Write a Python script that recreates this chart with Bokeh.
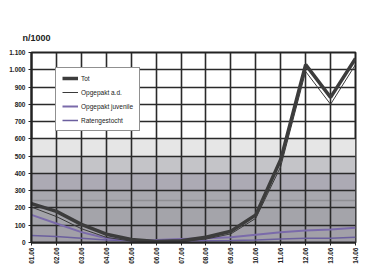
from bokeh.plotting import figure
from bokeh.models import Legend, LegendItem, FixedTicker, Range1d, BoxAnnotation
from bokeh.embed import file_html
from bokeh.resources import INLINE
import math

# ---- data ----
x_labels = ["01.06", "02.06", "03.06", "04.06", "05.06", "06.06", "07.06",
            "08.06", "09.06", "10.06", "11.06", "12.06", "13.06", "14.06"]
totaal = [225, 180, 105, 48, 17, 6, 10, 30, 65, 160, 480, 1030, 840, 1065]
opgepakt_ad = [205, 150, 80, 30, 8, 2, 5, 20, 50, 140, 440, 990, 800, 1030]
opgepakt_juv = [160, 110, 60, 25, 12, 15, 20, 25, 30, 45, 60, 70, 75, 85]
rattengestocht = [40, 35, 25, 15, 10, 8, 8, 10, 12, 15, 20, 25, 25, 30]
y_ticks = [0, 100, 200, 300, 400, 500, 600, 700, 800, 900, 1000, 1100]
y_tick_labels = ["0", "100", "200", "300", "400", "500", "600", "700", "800",
                 "900", "1.000", "1.100"]
# background halftone bands (value ranges) and their grey tone
band_bottoms = [0, 100, 200, 300, 400, 500]
band_tops = [100, 200, 300, 400, 500, 600]
band_colors = ["#a2a0a8", "#a4a4aa", "#a8a8ae", "#acaab4", "#c4c4c8", "#e6e6e6"]

xs = list(range(len(x_labels)))

p = figure(width=366, height=266, output_backend="svg", toolbar_location=None,
           x_range=Range1d(0, len(x_labels) - 1), y_range=Range1d(0, 1100),
           min_border_left=31, min_border_right=11, min_border_top=52,
           min_border_bottom=23, title="n/1000")
p.title.text_font_size = "9px"
p.title.text_font_style = "bold"
p.title.text_font = "Liberation Sans"
p.title.text_color = "#222222"
p.title.offset = -9
p.title.standoff = 19

bands = p.hbar(y=[(b + t) / 2 for b, t in zip(band_bottoms, band_tops)],
               height=100, left=0, right=len(x_labels) - 1,
               color=band_colors, line_color=None)
bands.level = "image"

l4 = p.line(xs, rattengestocht, line_color="#6b5f9e", line_width=1.5)
l3 = p.line(xs, opgepakt_juv, line_color="#7a6aaa", line_width=2)
l2 = p.line(xs, opgepakt_ad, line_color="#3a3a3a", line_width=1)
l1 = p.line(xs, totaal, line_color="#3c3c3c", line_width=3.5)

p.xaxis.ticker = FixedTicker(ticks=xs)
p.xaxis.major_label_overrides = {i: s for i, s in enumerate(x_labels)}
p.xaxis.major_label_orientation = math.pi / 2
p.xaxis.major_label_text_font_size = "6.5px"
p.xaxis.major_label_text_font_style = "bold"
p.xaxis.major_label_standoff = 2

p.yaxis.ticker = FixedTicker(ticks=y_ticks)
p.yaxis.major_label_overrides = {v: s for v, s in zip(y_ticks, y_tick_labels)}
p.yaxis.major_label_text_font_size = "6.5px"
p.yaxis.major_label_text_font_style = "bold"
p.yaxis.major_label_standoff = 3

for ax in (p.xaxis, p.yaxis):
    ax.axis_line_color = "#222222"
    ax.axis_line_width = 2
    ax.major_tick_line_color = "#222222"
    ax.major_tick_out = 3
    ax.major_tick_in = 0
    ax.minor_tick_line_color = None
    ax.major_label_text_color = "#222222"
    ax.major_label_text_font = "Liberation Sans"

for g in (p.xgrid, p.ygrid):
    g.grid_line_color = "#2a2a2a"
    g.grid_line_width = 1.6
    g.grid_line_alpha = 1

p.outline_line_color = "#222222"
p.outline_line_width = 2
p.background_fill_color = "#ffffff"
p.border_fill_color = "#ffffff"

outer = BoxAnnotation(left=-26, right=333, top=42, bottom=-40,
                      left_units="screen", right_units="screen",
                      top_units="screen", bottom_units="screen",
                      fill_alpha=0, line_color="#555555", line_width=1.5)
p.add_layout(outer)

legend = Legend(items=[
    LegendItem(label="Tot", renderers=[l1]),
    LegendItem(label="Opgepakt a.d.", renderers=[l2]),
    LegendItem(label="Opgepakt juvenile", renderers=[l3]),
    LegendItem(label="Ratengestocht", renderers=[l4]),
], location=(24, 111))
legend.label_text_font_size = "6.5px"
legend.label_text_font = "Liberation Sans"
legend.label_text_color = "#222222"
legend.glyph_width = 16
legend.glyph_height = 8
legend.spacing = 6
legend.padding = 6
legend.margin = 0
legend.label_standoff = 3
legend.label_height = 8
legend.border_line_color = "#222222"
legend.border_line_width = 1.2
legend.background_fill_alpha = 1
p.add_layout(legend)

open("out.html", "w").write(file_html(p, INLINE))
